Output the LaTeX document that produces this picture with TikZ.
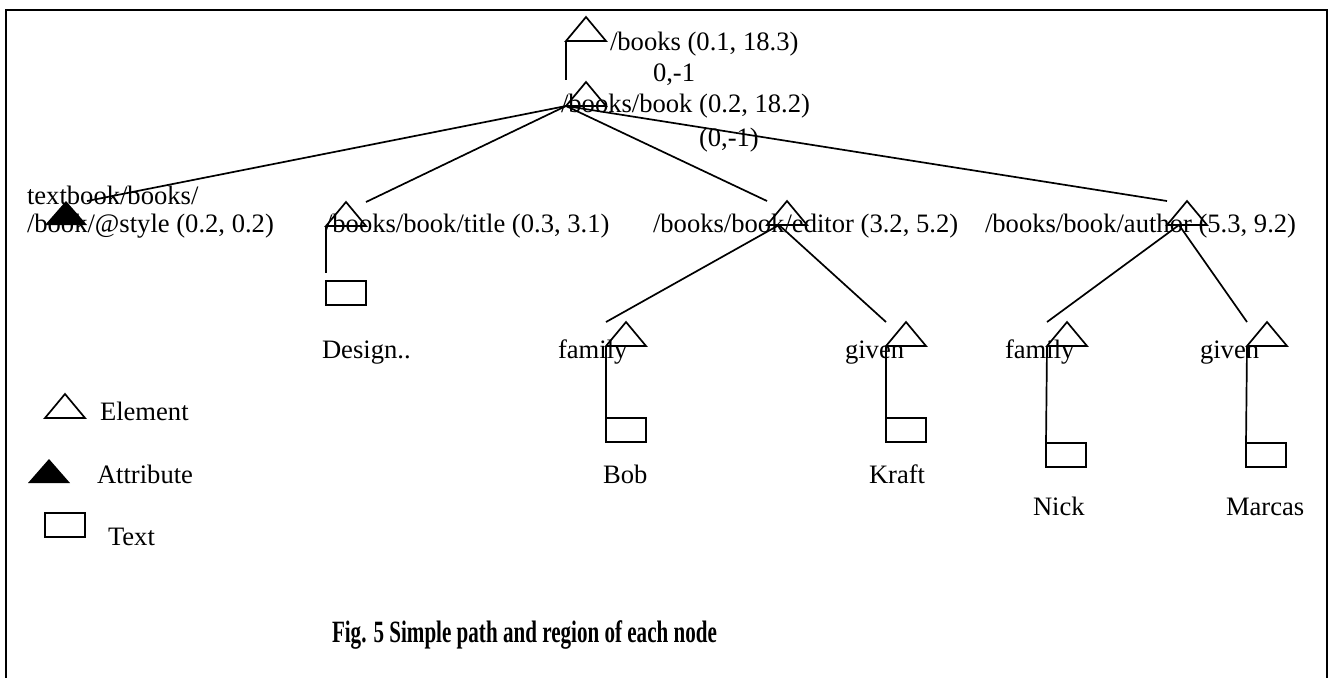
\documentclass[tikz,border=0pt]{standalone}
\usepackage{fontspec}
\setmainfont{Liberation Serif}
\usetikzlibrary{calc}
\tikzset{
  % outlined triangle for an element; origin = lower left corner
  elem/.pic={
    \draw (0,0) -- (20,-24) -- (40,0) -- cycle;
    \coordinate (-bl) at (0,0);
    \coordinate (-tl) at (0,-24);
    \coordinate (-tr) at (40,-24);
    \coordinate (-hub) at (12,0);
  },
  % filled triangle for an attribute
  attrib/.pic={
    \fill (0,0) -- (21,-24) -- (42,0) -- cycle;
    \coordinate (-bl) at (0,0);
    \coordinate (-tr) at (42,-24);
  },
  lbl/.style={anchor=base west, inner sep=0pt, outer sep=0pt},
  txtbox/.style={draw, anchor=north west, minimum width=20pt, minimum height=12pt,
                 inner sep=0pt, outer sep=0pt},
}
\begin{document}
\begin{tikzpicture}[x=0.5pt, y=-0.5pt, line width=0.85pt,
                    font=\fontsize{13.3}{16}\selectfont]
\useasboundingbox (0,0) rectangle (1331,677);

% frame
\draw[line width=1pt] (6,700) -- (6,10) -- (1327,10) -- (1327,700);

% labels
\node[lbl] (l-root)  at (610,50)    {/books (0.1, 18.3)};
\node[lbl] (l-off1)  at (653,81)    {0,-1};
\node[lbl] (l-book)  at (561,112)   {/books/book (0.2, 18.2)};
\node[lbl] (l-off2)  at (699,146)   {(0,-1)};
\node[lbl] (l-at1)   at (27,204)    {textbook/books/};
\node[lbl] (l-at2)   at (27,232)    {/book/@style (0.2, 0.2)};
\node[lbl] (l-title) at (325,232)   {/books/book/title (0.3, 3.1)};
\node[lbl] (l-ed)    at (653,232)   {/books/book/editor (3.2, 5.2)};
\node[lbl] (l-au)    at (985,232)   {/books/book/author (5.3, 9.2)};
\node[lbl] (l-des)   at (322,358)   {Design..};
\node[lbl] (l-edf)   at (558,358)   {family};
\node[lbl] (l-edg)   at (845,358)   {given};
\node[lbl] (l-auf)   at (1005,358)  {family};
\node[lbl] (l-aug)   at (1200,358)  {given};
\node[lbl] (l-bob)   at (603,483)   {Bob};
\node[lbl] (l-kraft) at (869,483)   {Kraft};
\node[lbl] (l-nick)  at (1033,515)  {Nick};
\node[lbl] (l-marc)  at (1226,515)  {Marcas};

% tree symbols
\pic (root) at (566,41)  {elem};
\pic (bk)   at (566,106) {elem};
\pic (at)   at (45,225)  {attrib};
\pic (ti)   at (326,226) {elem};
\pic (ed)   at (767,225) {elem};
\pic (au)   at (1167,225){elem};
\pic (edf)  at (606,346) {elem};
\pic (edg)  at (886,346) {elem};
\pic (auf)  at (1047,346){elem};
\pic (aug)  at (1247,346){elem};

\node[txtbox] (ti-t)  at (326,281)  {};
\node[txtbox] (edf-t) at (606,418)  {};
\node[txtbox] (edg-t) at (886,418)  {};
\node[txtbox] (auf-t) at (1046,443) {};
\node[txtbox] (aug-t) at (1246,443) {};

\coordinate (root-end) at (566,80);

% connectors
\draw (root-bl) -- (root-end);
\draw (bk-bl) -- (at-tr);
\draw (bk-bl) -- (ti-tr);
\draw (bk-bl) -- (ed-tl);
\draw (bk-bl) -- (au-tl);
\draw (ed-hub) -- (edf-tl);
\draw (ed-hub) -- (edg-tl);
\draw (au-hub) -- (auf-tl);
\draw (au-hub) -- (aug-tl);
\draw[shorten >=4pt] (ti-bl) -- (ti-t.north west);
\draw (edf-bl) -- (edf-t.north west);
\draw (edg-bl) -- (edg-t.north west);
\draw (auf-bl) -- (auf-t.north west);
\draw (aug-bl) -- (aug-t.north west);

% legend
\pic (lg-el) at (45,418) {elem};
\pic (lg-at) at (28,483) {attrib};
\node[txtbox] (lg-tx) at (45,513) {};
\node[lbl] (lg-el-l) at (100,420) {Element};
\node[lbl] (lg-at-l) at (97,483)  {Attribute};
\node[lbl] (lg-tx-l) at (108,545) {Text};

% caption
\node[lbl, font=\bfseries\fontsize{15.5}{18}\selectfont] (cap) at (332,642)
  {\scalebox{0.68}[1]{Fig. 5 Simple path and region of each node}};
\end{tikzpicture}
\end{document}
